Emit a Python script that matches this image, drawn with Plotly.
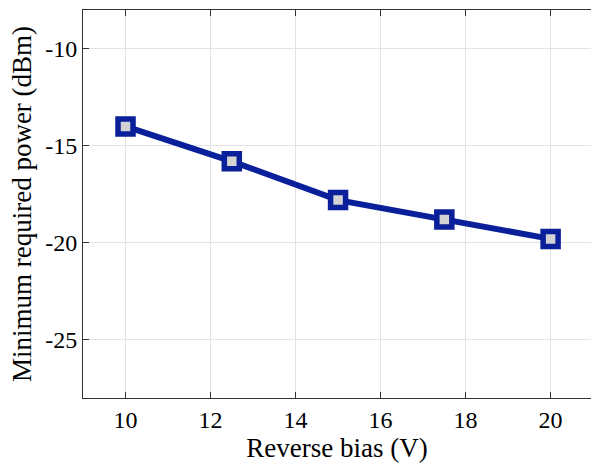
import plotly.graph_objects as go

reverse_bias = [10, 12.5, 15, 17.5, 20]
min_power = [-14.0, -15.8, -17.8, -18.8, -19.8]

x_ticks = [10, 12, 14, 16, 18, 20]
y_ticks = [-25, -20, -15, -10]
y_tick_labels = ["-25", "-20", "-15", "-10"]

line_color = "#0A1F9A"
serif = "Times New Roman"
axis_color = "#333333"
grid_color = "#E3E3E3"

fig = go.Figure(go.Scatter(
    x=reverse_bias,
    y=min_power,
    mode="lines+markers",
    line=dict(color=line_color, width=6),
    marker=dict(symbol="square", size=15, color="#D3D3D3",
                line=dict(color=line_color, width=5.5)),
    showlegend=False,
))

fig.update_layout(
    width=591, height=469,
    margin=dict(l=83, r=0, t=10, b=71),
    font=dict(family=serif, color="black"),
    plot_bgcolor="white", paper_bgcolor="white",
    xaxis=dict(
        range=[9, 20.95], tickvals=x_ticks,
        showline=True, mirror="ticks", linecolor=axis_color, linewidth=1,
        ticks="inside", ticklen=6, tickcolor=axis_color,
        showgrid=True, gridcolor=grid_color, zeroline=False,
        tickfont=dict(family=serif, size=24, color="black"),
        title=dict(text="Reverse bias (V)",
                   font=dict(family=serif, size=27, color="black"),
                   standoff=4),
    ),
    yaxis=dict(
        range=[-28, -8], tickvals=y_ticks, ticktext=y_tick_labels,
        showline=True, mirror=False, linecolor=axis_color, linewidth=1,
        ticks="inside", ticklen=6, tickcolor=axis_color,
        showgrid=True, gridcolor=grid_color, zeroline=False,
        tickfont=dict(family=serif, size=24, color="black"),
        title=dict(text="Minimum required power (dBm)",
                   font=dict(family=serif, size=27, color="black"),
                   standoff=5),
    ),
)

fig.write_html("out.html")
